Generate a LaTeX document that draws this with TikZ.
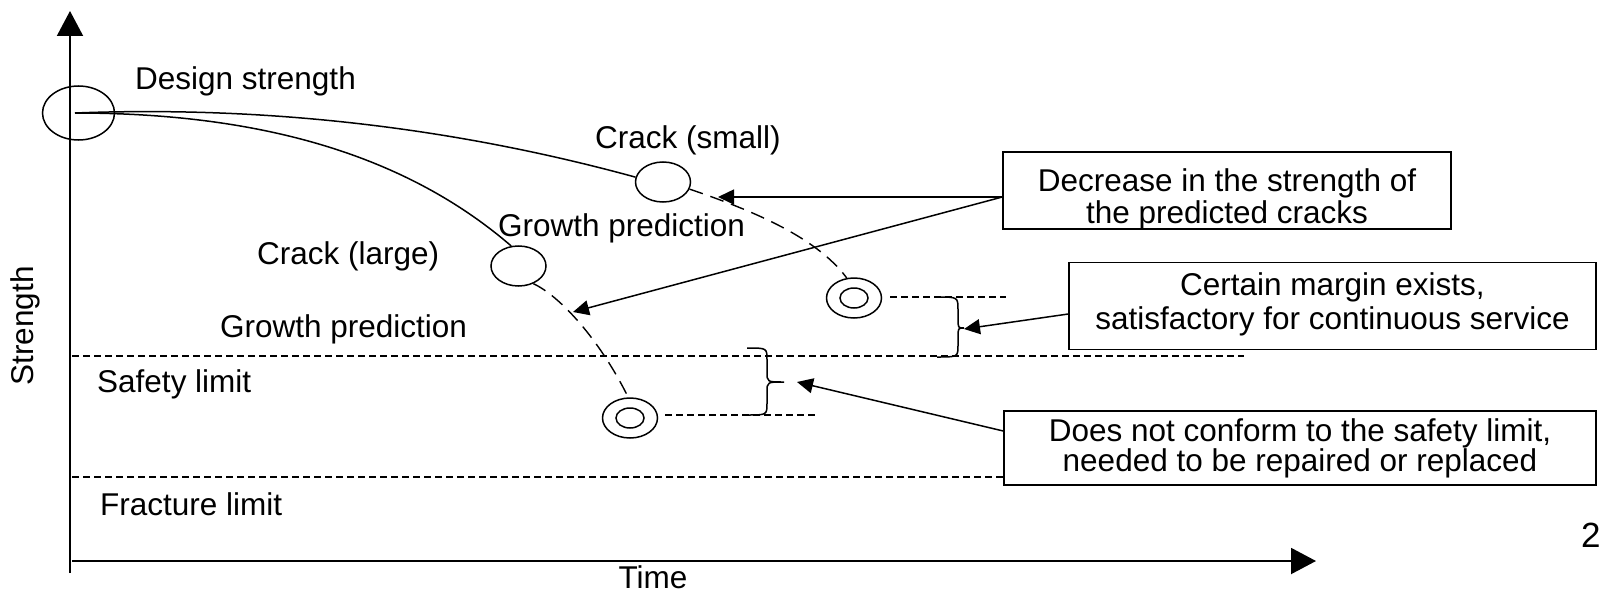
\documentclass[tikz,border=0pt]{standalone}
\usepackage{fontspec}
\setmainfont{Liberation Sans}
\usetikzlibrary{arrows.meta,shapes.geometric}

\begin{document}
\begin{tikzpicture}[x=1pt,y=-1pt,
  txt/.style={inner sep=0pt, anchor=base west, font=\fontsize{31.5}{32}\selectfont},
  boxtxt/.style={inner sep=0pt, anchor=base, font=\fontsize{31.5}{32}\selectfont},
  axis/.style={line width=2pt, -{Triangle[length=25pt,width=26pt]}},
  curve/.style={line width=1.5pt},
  predict/.style={line width=1.4pt, dash pattern=on 14pt off 8pt},
  limit/.style={line width=1.3pt, dash pattern=on 7pt off 4pt},
  pointer/.style={line width=1.5pt, -{Triangle[length=16pt,width=15pt]}},
  crack/.style={draw, ellipse, line width=1.5pt, inner sep=0pt,
                minimum width=55pt, minimum height=40pt},
  core/.style={draw, ellipse, line width=1.5pt, inner sep=0pt,
               minimum width=28pt, minimum height=20pt},
  note/.style={draw, line width=1.5pt, inner sep=0pt},
  brace/.style={line width=1.5pt}]

\useasboundingbox (0,0) rectangle (1601,594);

% axes
\coordinate (ybot) at (70,573);
\coordinate (ytop) at (70,11);
\coordinate (xleft) at (72,561);
\coordinate (xright) at (1316,561);
\draw[axis] (ybot) -- (ytop);
\draw[axis] (xleft) -- (xright);
\node[inner sep=0pt, anchor=base, rotate=90, font=\fontsize{31.5}{32}\selectfont]
  (strength) at (34,326) {Strength};
\node[boxtxt] (time) at (653,588) {Time};
\node[inner sep=0pt, anchor=base west, font=\fontsize{35}{36}\selectfont]
  (pagenum) at (1581,547) {2};

% design strength and the two crack paths
\node[draw, ellipse, line width=1.5pt, inner sep=0pt,
      minimum width=72pt, minimum height=54pt] (design) at (78.5,113) {};
\coordinate (origin) at (75,113);
\node[crack] (small) at (663,182) {};
\node[crack] (large) at (518.5,266) {};
\node[crack] (smallend) at (854,298) {};
\node[core] (smallendcore) at (854,298) {};
\node[crack] (largeend) at (630,418) {};
\node[core] (largeendcore) at (630,418) {};

\draw[curve] (origin) .. controls (257,106) and (445,125) .. (small.170);
\draw[curve] (origin) .. controls (250,113) and (400,150) .. (large.110);
\draw[predict] (small.-15) .. controls (745,208) and (815,235) .. (smallend.110);
\draw[predict] (large.-50) .. controls (560,296) and (600,340) .. (largeend.95);

% labels
\node[txt] (ldesign) at (135,89) {Design strength};
\node[txt] (lsmall) at (595,148) {Crack (small)};
\node[txt] (lgrowthA) at (498,236) {Growth prediction};
\node[txt] (llarge) at (257,264) {Crack (large)};
\node[txt] (lgrowthB) at (220,337) {Growth prediction};
\node[txt] (lsafety) at (97,392) {Safety limit};
\node[txt] (lfracture) at (100,515) {Fracture limit};

% explanation boxes
\node[note, minimum width=448pt, minimum height=77pt] (box1) at (1227,190.5) {};
\node[boxtxt] (box1a) at (1227,191) {Decrease in the strength of};
\node[boxtxt] (box1b) at (1227,223) {the predicted cracks};

\node[note, minimum width=527pt, minimum height=87pt] (box2) at (1332.5,306) {};
\node[boxtxt] (box2a) at (1332.5,295) {Certain margin exists,};
\node[boxtxt] (box2b) at (1332.5,329) {satisfactory for continuous service};

\node[note, minimum width=592pt, minimum height=74pt] (box3) at (1300,448) {};
\node[boxtxt] (box3a) at (1300,441) {Does not conform to the safety limit,};
\node[boxtxt] (box3b) at (1300,471) {needed to be repaired or replaced};

% limit lines
\coordinate (safeL) at (72,356);
\coordinate (safeR) at (1244,356);
\coordinate (fracL) at (72,477);
\draw[limit] (safeL) -- (safeR);
\draw[limit] (fracL) -- (fracL -| box3.west);

% remaining-life markers
\coordinate (mark1) at (1006,297);
\coordinate (mark2) at (815,415);
\draw[limit] (890,297) -- (mark1);
\draw[limit] (665,415) -- (mark2);

% braces
\coordinate (tip1) at (964,328);
\coordinate (tip2) at (784,382);
\draw[brace] (937,297) .. controls (958,297) .. (958,310) -- (958,318)
  .. controls (958,328) .. (tip1) .. controls (958,328) .. (958,338)
  -- (958,345) .. controls (958,357) .. (937,357);
\draw[brace] (747,348) .. controls (767,348) .. (767,360) -- (767,372)
  .. controls (767,382) .. (tip2) .. controls (767,382) .. (767,392)
  -- (767,403) .. controls (767,415) .. (747,415);

% pointers
\coordinate (hit1) at (718,197);
\coordinate (hit2) at (573,312);
\coordinate (hit3) at (964,329);
\coordinate (hit4) at (797,382);
\draw[pointer] (box1.west |- hit1) -- (hit1);
\draw[pointer] (box1.west |- hit1) -- (hit2);
\draw[pointer] ([yshift=-8pt]box2.west) -- (hit3);
\draw[pointer] ([yshift=17pt]box3.west) -- (hit4);

\end{tikzpicture}
\end{document}
